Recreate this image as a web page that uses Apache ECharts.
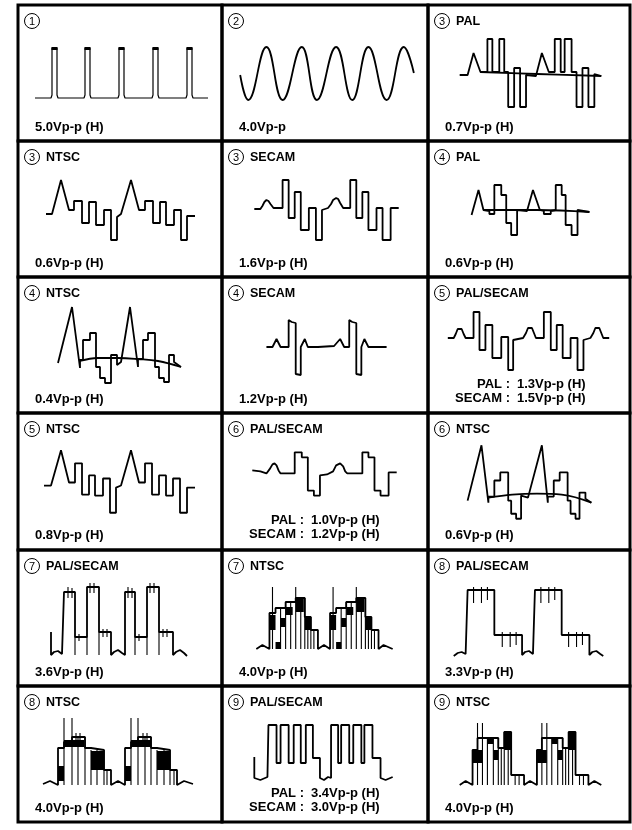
<!DOCTYPE html>
<html>
<head>
<meta charset="utf-8">
<script src="https://cdn.jsdelivr.net/npm/echarts/dist/echarts.min.js"></script>
<style>
  html, body { margin: 0; padding: 0; background: #fff; }
  #chart { width: 632px; height: 830px; }
</style>
</head>
<body>
<div id="chart"></div>
<script>
// captions, left-to-right, top-to-bottom
const panelNums = ['1', '2', '3', '3', '3', '4', '4', '4', '5', '5', '6', '6', '7', '7', '8', '8', '9', '9'];
const panelLabels = ['', '', 'PAL', 'NTSC', 'SECAM', 'PAL', 'NTSC', 'SECAM', 'PAL/SECAM', 'NTSC',
  'PAL/SECAM', 'NTSC', 'PAL/SECAM', 'NTSC', 'PAL/SECAM', 'NTSC', 'PAL/SECAM', 'NTSC'];
const panelVolts = ['5.0Vp-p (H)', '4.0Vp-p', '0.7Vp-p (H)', '0.6Vp-p (H)', '1.6Vp-p (H)', '0.6Vp-p (H)',
  '0.4Vp-p (H)', '1.2Vp-p (H)', ['1.3Vp-p (H)', '1.5Vp-p (H)'], '0.8Vp-p (H)', ['1.0Vp-p (H)', '1.2Vp-p (H)'],
  '0.6Vp-p (H)', '3.6Vp-p (H)', '4.0Vp-p (H)', '3.3Vp-p (H)', '4.0Vp-p (H)', ['3.4Vp-p (H)', '3.0Vp-p (H)'], '4.0Vp-p (H)'];

// waveforms, in panel units (x 0..204, y 0..136 downwards)
const wave1 = [[17,93],[33,93],[34,90],[34,43],[39,43],[39,90],[40,93],[66,93],[67,90],[67,43],[72,43],[72,90],[73,93],
  [100,93],[101,90],[101,43],[106,43],[106,90],[107,93],[134,93],[135,90],[135,43],[140,43],[140,90],[141,93],
  [168,93],[169,90],[169,43],[174,43],[174,90],[175,93],[190,93]];
const wave2 = [[18,70],[26,95],[44,42],[60,95],[79,42],[94,95],[113,42],[129,95],[145,42],[163,95],[180,42],[190,68]];
const wave3 = [[32,70],[40,70],[46,48],[53,67],[60,67],[60,34],[65,34],[65,67],[72,67],[72,34],[77,34],[77,67],
  [81,67],[81,102],[87,102],[87,63],[93,63],[93,102],[99,102],[99,70],[109,71],[115,48],[122,67],[128,67],
  [128,34],[134,34],[134,67],[138,67],[138,34],[145,34],[145,67],[150,67],[150,102],[156,102],[156,63],
  [162,63],[162,102],[168,102],[168,69],[175,71]];
const trace3 = [[53,67],[110,69],[175,71]];
const wave4 = [[28,73],[34,73],[43,39],[51,69],[56,69],[56,60],[64,60],[64,82],[71,82],[71,61],[78,61],[78,84],
  [86,84],[86,69],[93,69],[93,99],[99,99],[99,76],[103,73],[113,39],[121,69],[127,69],[127,60],[135,60],
  [135,82],[142,82],[142,61],[148,61],[148,84],[156,84],[156,69],[163,69],[163,99],[169,99],[169,75],[177,75]];
const wave5 = [[32,68],[38,68],[40,65],[42,61],[44,59],[46,60],[48,63],[51,67],[60,67],[60,39],[66,39],[66,77],
  [72,77],[72,51],[78,51],[78,89],[86,89],[86,67],[93,67],[93,99],[99,99],[99,69],[105,67],[108,63],[110,59],
  [113,57],[115,58],[117,62],[120,67],[127,67],[127,39],[133,39],[133,77],[139,77],[139,51],[145,51],[145,89],
  [153,89],[153,67],[159,67],[159,99],[167,99],[167,67],[175,67]];
const wave6 = [[44,74],[51,49],[56,69],[62,70],[62,73],[67,73],[67,44],[74,44],[74,54],[79,54],[79,82],[84,82],
  [84,94],[90,94],[90,69],[100,70],[106,49],[113,69],[117,70],[117,73],[124,73],[124,70],[129,69],[129,44],
  [135,44],[135,54],[139,54],[139,84],[145,84],[145,94],[151,94],[151,69],[163,71]];
const trace6 = [[56,69],[110,69],[163,71]];
const wave7 = [[40,86],[54,30],[62,91],[62,83],[65,83],[65,63],[72,63],[72,56],[78,56],[78,90],[82,90],[82,101],
  [87,101],[87,106],[93,106],[93,78],[99,78],[99,88],[103,85],[112,30],[120,90],[120,82],[125,82],[125,63],
  [130,63],[130,56],[137,56],[137,90],[141,90],[141,101],[146,101],[146,105],[151,105],[151,78],[156,78],
  [156,85],[163,90]];
const curve7 = [[62,84],[80,81],[100,81],[120,82],[140,84],[163,90]];
const wave8 = [[44,70],[50,70],[54,62],[58,70],[66,70],[66,43],[69,45],[73,46],[73,97],[78,98],[78,70],[82,62],
  [85,70],[95,70],[111,69],[117,62],[121,70],[126,70],[126,43],[129,45],[133,46],[133,97],[138,98],[138,70],
  [141,62],[145,70],[163,70]];
const wave9 = [[20,61],[26,61],[28,57],[30,52],[32,50],[34,52],[36,57],[38,61],[46,61],[46,35],[52,35],[52,73],
  [58,73],[58,48],[65,48],[65,81],[74,81],[74,60],[81,60],[81,93],[86,93],[86,63],[96,61],[99,56],[101,51],
  [103,50],[105,51],[107,56],[109,61],[117,61],[117,35],[124,35],[124,73],[130,73],[130,48],[136,48],[136,81],
  [144,81],[144,61],[151,61],[151,93],[157,93],[157,63],[164,61],[167,56],[169,51],[171,50],[173,51],[175,56],
  [177,61],[183,61]];
const wave10 = [[26,72],[33,72],[43,37],[51,69],[57,69],[57,50],[64,50],[64,81],[71,81],[71,62],[77,62],[77,82],
  [85,82],[85,65],[92,65],[92,99],[98,99],[98,74],[103,72],[113,37],[121,69],[127,69],[127,50],[134,50],
  [134,81],[141,81],[141,62],[148,62],[148,82],[155,82],[155,65],[162,65],[162,99],[169,99],[169,74],[177,74]];
const wave11 = [[30,57],[38,58],[44,60],[47,56],[50,51],[52,50],[54,52],[56,57],[58,60],[72,60],[72,39],[79,39],
  [79,44],[85,44],[85,77],[91,77],[91,82],[97,82],[97,62],[104,61],[110,58],[113,52],[117,50],[120,53],[122,58],
  [124,60],[139,60],[139,39],[145,39],[145,44],[151,44],[151,77],[157,77],[157,82],[165,82],[165,59],[173,59]];
const wave12 = [[40,87],[54,32],[61,89],[61,83],[67,83],[67,67],[73,67],[73,59],[81,59],[81,87],[84,87],[84,100],
  [89,100],[89,105],[94,105],[94,82],[101,84],[115,32],[121,89],[121,83],[127,83],[127,67],[133,67],[133,59],
  [141,59],[141,87],[144,87],[144,100],[149,100],[149,105],[153,105],[153,79],[159,79],[159,85],[165,89]];
const curve12 = [[61,84],[85,81],[110,80],[135,81],[165,89]];
const wave13 = [[33,82],[33,105],[36,102],[40,101],[44,104],[46,105],[46,42],[57,42],[57,87],[69,87],[69,37],
  [81,37],[81,82],[93,82],[93,105],[96,102],[100,100],[104,103],[107,105],[107,42],[117,42],[117,87],[129,87],
  [129,37],[141,37],[141,82],[155,82],[155,105],[158,102],[162,100],[166,103],[169,106]];
const wave14 = [[34,99],[40,95],[47,99],[47,63],[53,63],[53,58],[63,58],[63,52],[73,52],[73,48],[82,48],[82,67],
  [88,67],[88,80],[95,80],[95,99],[101,95],[107,99],[107,63],[113,63],[113,58],[123,58],[123,52],[133,52],
  [133,48],[142,48],[142,67],[148,67],[148,80],[155,80],[155,99],[160,95],[169,99]];
const wave15 = [[26,106],[30,103],[34,102],[38,104],[40,105],[40,40],[67,40],[67,85],[95,85],[95,105],[98,102],
  [102,101],[106,104],[108,105],[108,40],[135,40],[135,85],[163,85],[163,105],[166,102],[170,101],[174,104],[177,106]];
const wave16 = [[25,98],[32,95],[40,99],[40,62],[46,62],[46,56],[54,56],[54,51],[67,51],[67,62],[73,62],[73,64],
  [86,64],[86,84],[93,84],[93,99],[100,95],[107,99],[107,62],[113,62],[113,56],[120,56],[120,51],[133,51],
  [133,62],[139,62],[139,64],[152,64],[152,84],[159,84],[159,99],[166,95],[175,98]];
const wave17 = [[32,71],[32,92],[38,94],[45,91],[46,92],[46,39],[54,39],[54,77],[58,77],[58,39],[66,39],[66,77],
  [71,77],[71,39],[78,39],[78,77],[83,77],[83,39],[90,39],[90,72],[97,72],[97,92],[101,94],[105,91],[108,92],
  [108,39],[115,39],[115,77],[118,77],[118,39],[126,39],[126,77],[130,77],[130,39],[138,39],[138,77],[141,77],
  [141,39],[149,39],[149,72],[157,72],[157,92],[162,94],[169,91]];
const wave18 = [[32,99],[38,95],[45,99],[45,64],[50,64],[50,52],[71,52],[71,62],[77,62],[77,46],[84,46],[84,89],
  [97,89],[97,99],[103,95],[110,99],[110,64],[115,64],[115,52],[136,52],[136,62],[142,62],[142,46],[149,46],
  [149,89],[162,89],[162,99],[168,95],[175,99]];

// vertical strokes [x, yTop, yBottom]
const segs13 = [[57,87,105],[69,87,105],[81,82,105],[117,87,105],[129,87,105],[141,82,105],
  [50,37,48],[54,38,48],[61,84,91],[72,33,43],[76,33,43],[85,79,87],[89,79,87],
  [110,37,48],[114,38,48],[121,84,91],[132,33,43],[136,33,43],[145,79,87],[149,79,87]];
const segs14 = [[50,37,99],[58,58,99],[63,52,99],[68,52,99],[73,37,99],[78,48,99],[82,48,99],[85,67,99],[88,67,99],[91,80,99],
  [110,37,99],[118,58,99],[123,52,99],[128,52,99],[133,37,99],[138,48,99],[142,48,99],[145,67,99],[148,67,99],[151,80,99]];
const segs15 = [[46,37,53],[54,37,53],[60,37,50],[75,82,97],[83,82,97],[89,82,95],
  [114,37,53],[122,37,53],[128,37,50],[142,82,97],[150,82,97],[156,82,95]];
const segs16 = [[46,32,99],[54,32,99],[60,51,99],[67,51,99],[73,64,99],[79,64,99],[86,64,99],[89,84,99],[58,47,55],[62,47,55],
  [113,32,99],[120,32,99],[127,51,99],[133,51,99],[139,64,99],[146,64,99],[152,64,99],[156,84,99],[125,47,55],[129,47,55]];
const segs18 = [[50,37,99],[55,37,99],[60,52,99],[66,52,99],[71,52,99],[74,62,99],[77,46,99],[81,46,99],[88,89,99],[92,89,99],
  [115,37,99],[120,37,99],[125,52,99],[131,52,99],[136,52,99],[139,62,99],[142,46,99],[146,46,99],[153,89,99],[157,89,99]];

// filled marks [x0, x1, yTop, yBottom]: pulse caps and chroma blocks
const blocks1 = [[33.5,39.5,42,45],[66.5,72.5,42,45],[100.5,106.5,42,45],[134.5,140.5,42,45],[168.5,174.5,42,45]];
const blocks14 = [[47,53,65,80],[53,58,92,99],[58,63,68,77],[63,70,57,65],[73,81,48,62],[82,88,67,80],
  [107,113,65,80],[113,118,92,99],[118,123,68,77],[123,130,57,65],[133,141,48,62],[142,148,67,80]];
const blocks16 = [[40,46,80,95],[46,66,54,61],[73,86,65,84],[107,113,80,95],[113,133,54,61],[139,152,65,84]];
const blocks18 = [[45,55,64,77],[60,66,52,58],[66,71,64,74],[77,84,46,64],
  [110,120,64,77],[125,131,52,58],[131,136,64,74],[142,149,46,64]];

const waves = [wave1, wave2, wave3, wave4, wave5, wave6, wave7, wave8, wave9,
  wave10, wave11, wave12, wave13, wave14, wave15, wave16, wave17, wave18];
const extraLines = { 2: trace3, 5: trace6, 6: curve7, 11: curve12 };
const segsBy = { 12: segs13, 13: segs14, 14: segs15, 15: segs16, 17: segs18 };
const blocksBy = { 0: blocks1, 13: blocks14, 15: blocks16, 17: blocks18 };

const cols = [18, 222, 428, 630];
const rows = [5, 141, 277, 413, 550, 686, 822];
const FONT = '"Liberation Sans", Arial, sans-serif';

function segItem(params, api) {
  const a = api.coord([api.value(0), api.value(1)]);
  const b = api.coord([api.value(0), api.value(2)]);
  return { type: 'line', shape: { x1: a[0], y1: a[1], x2: b[0], y2: b[1] },
    style: { stroke: '#000', lineWidth: 1.1 } };
}
function blockItem(params, api) {
  const a = api.coord([api.value(0), api.value(2)]);
  const b = api.coord([api.value(1), api.value(3)]);
  return { type: 'rect', shape: { x: a[0], y: a[1], width: b[0] - a[0], height: b[1] - a[1] },
    style: { fill: '#000' } };
}
function txt(x, y, text, size, align, weight) {
  return { type: 'text', x, y, silent: true,
    style: { text, font: (weight || 'bold') + ' ' + size + 'px ' + FONT, fill: '#000',
      align: align || 'left', verticalAlign: 'middle', textAlign: align || 'left', textVerticalAlign: 'middle' } };
}

const grid = [], xAxis = [], yAxis = [], series = [], graphic = [];
waves.forEach((w, i) => {
  const c = i % 3, r = Math.floor(i / 3);
  const left = cols[c], top = rows[r];
  grid.push({ left, top, width: cols[c + 1] - left, height: rows[r + 1] - top,
    show: true, borderColor: '#000', borderWidth: 3, backgroundColor: 'transparent' });
  xAxis.push({ gridIndex: i, type: 'value', min: 0, max: 204, show: false });
  yAxis.push({ gridIndex: i, type: 'value', min: 0, max: 136, inverse: true, show: false });
  series.push({ type: 'line', xAxisIndex: i, yAxisIndex: i, data: w, symbol: 'none',
    smooth: i === 1 ? 0.45 : false, lineStyle: { color: '#000', width: i === 0 ? 1.2 : 1.8 } });
  if (extraLines[i]) {
    series.push({ type: 'line', xAxisIndex: i, yAxisIndex: i, data: extraLines[i], symbol: 'none',
      smooth: 0.4, lineStyle: { color: '#000', width: 1.8 } });
  }
  if (segsBy[i]) {
    series.push({ type: 'custom', xAxisIndex: i, yAxisIndex: i, data: segsBy[i],
      encode: { x: 0, y: [1, 2] }, renderItem: segItem });
  }
  if (blocksBy[i]) {
    series.push({ type: 'custom', xAxisIndex: i, yAxisIndex: i, data: blocksBy[i],
      encode: { x: [0, 1], y: [2, 3] }, renderItem: blockItem });
  }

  // circled number + system label
  graphic.push({ type: 'circle', silent: true, shape: { cx: left + 14, cy: top + 16, r: 7.5 },
    style: { fill: '#fff', stroke: '#000', lineWidth: 1 } });
  graphic.push(txt(left + 14, top + 16.5, panelNums[i], 11, 'center', 'normal'));
  if (panelLabels[i]) graphic.push(txt(left + 28, top + 17, panelLabels[i], 12.5, 'left'));

  const v = panelVolts[i];
  if (Array.isArray(v)) {
    graphic.push(txt(left + 82, top + 107, 'PAL :', 13, 'right'));
    graphic.push(txt(left + 89, top + 107, v[0], 13, 'left'));
    graphic.push(txt(left + 82, top + 121, 'SECAM :', 13, 'right'));
    graphic.push(txt(left + 89, top + 121, v[1], 13, 'left'));
  } else {
    graphic.push(txt(left + 17, top + 122, v, 13, 'left'));
  }
});

const chart = echarts.init(document.getElementById('chart'));
chart.setOption({
  animation: false,
  backgroundColor: '#fff',
  grid, xAxis, yAxis, series, graphic
});
</script>
</body>
</html>
